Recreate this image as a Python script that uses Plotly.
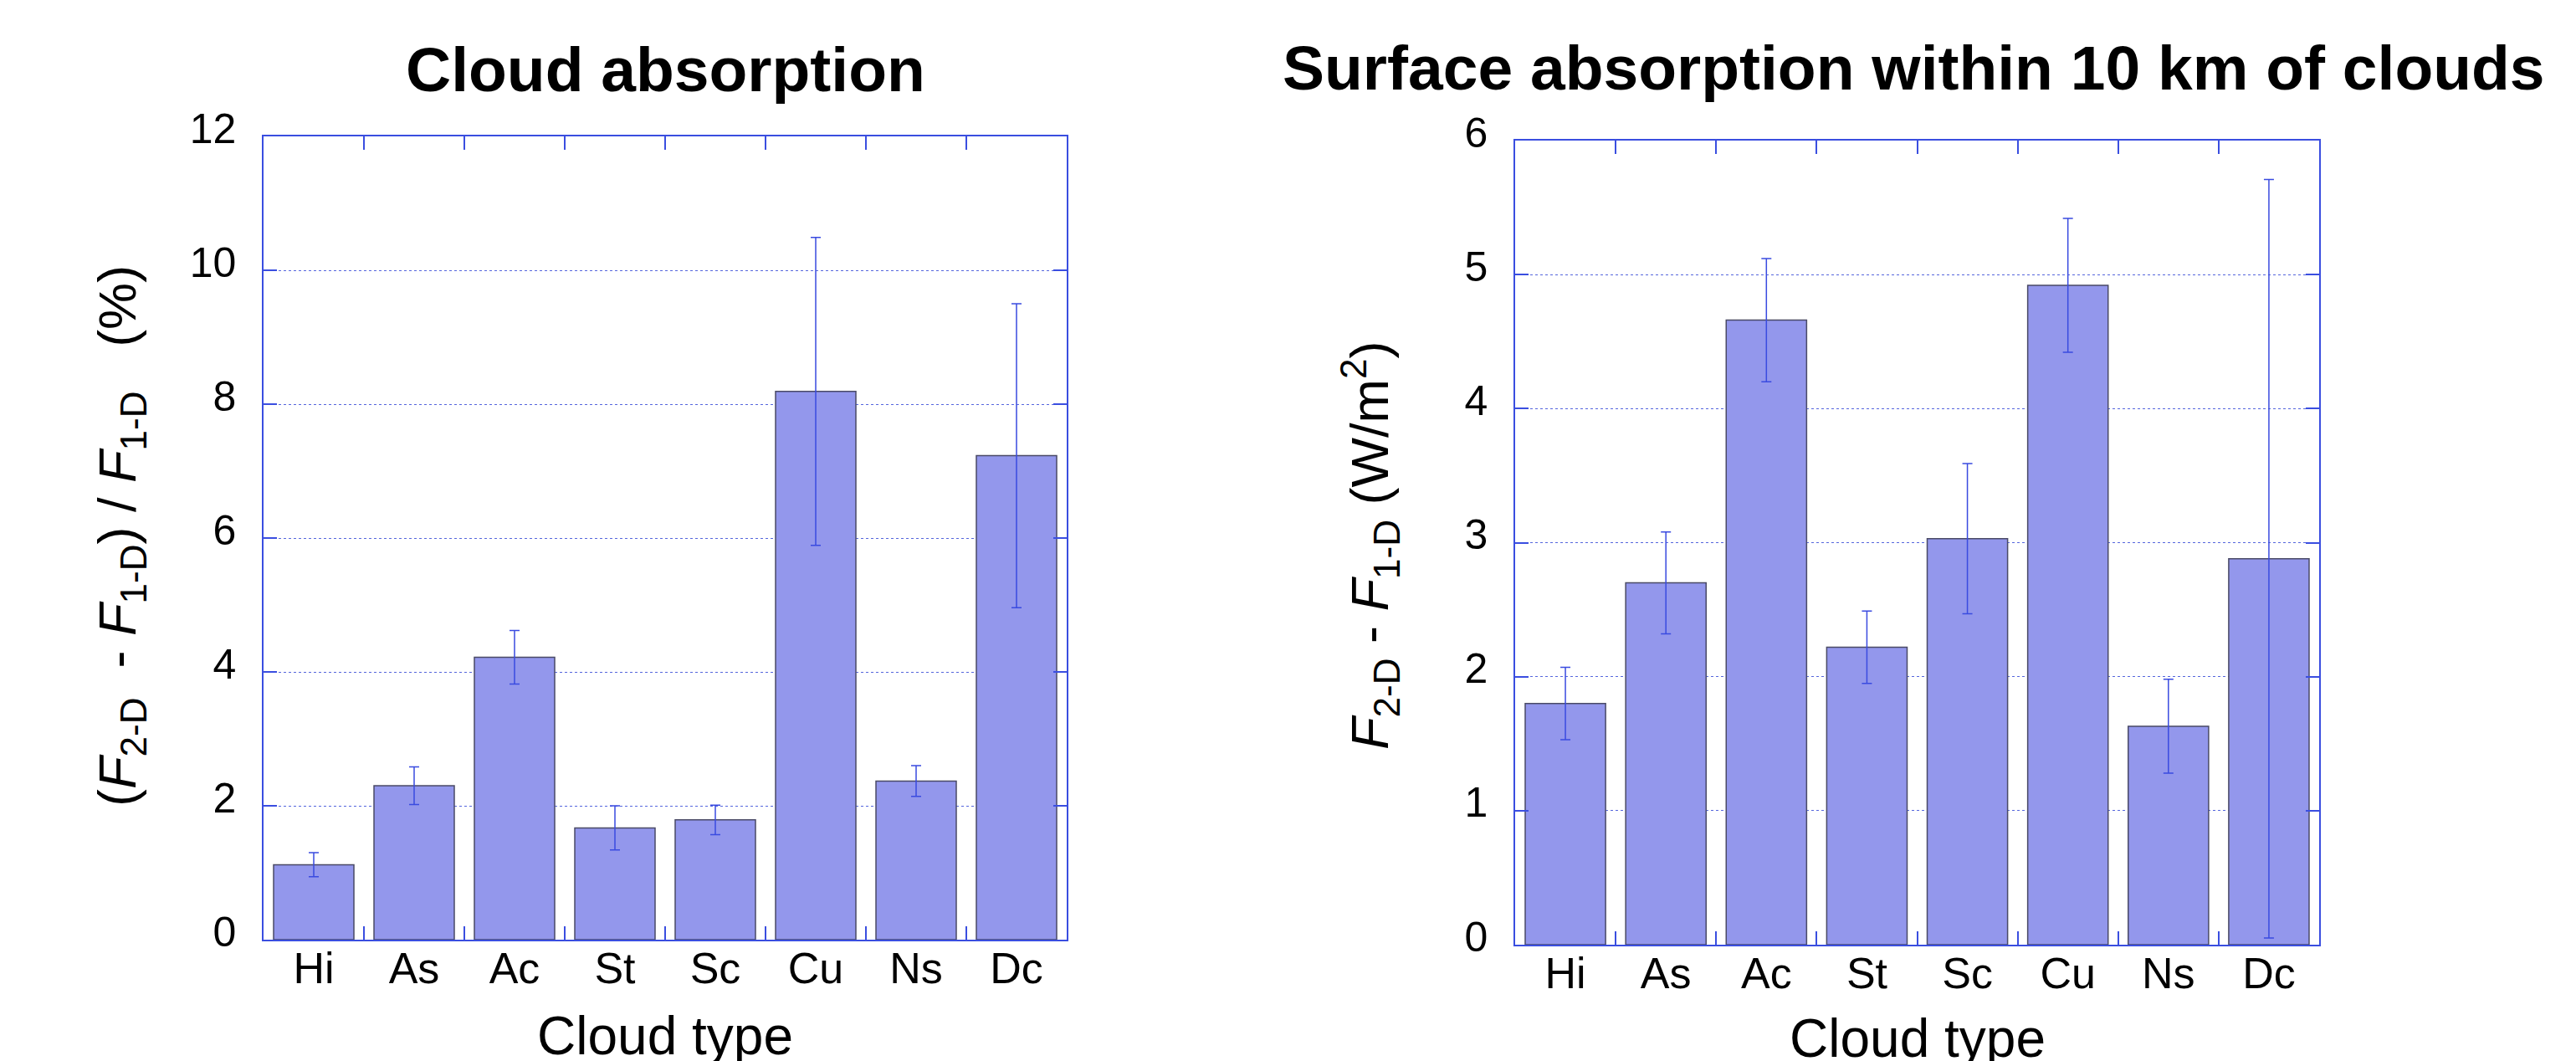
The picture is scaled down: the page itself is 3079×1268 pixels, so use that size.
import plotly.graph_objects as go

categories = ["Hi", "As", "Ac", "St", "Sc", "Cu", "Ns", "Dc"]

cloud_abs = [1.12, 2.30, 4.22, 1.67, 1.79, 8.19, 2.37, 7.23]
cloud_abs_err = [0.18, 0.28, 0.40, 0.33, 0.22, 2.30, 0.23, 2.27]

surf_abs = [1.80, 2.70, 4.66, 2.22, 3.03, 4.92, 1.63, 2.88]
surf_abs_err = [0.27, 0.38, 0.46, 0.27, 0.56, 0.50, 0.35, 2.83]

left_ticks = [0, 2, 4, 6, 8, 10, 12]
right_ticks = [0, 1, 2, 3, 4, 5, 6]

FONT = "Liberation Sans, Arial, Helvetica, sans-serif"
BAR_FILL = "#9397ec"
BAR_LINE = "#4a4a66"
ERR_COL = "#3a4be0"
AXIS_COL = "#3a4ee0"
GRID_COL = "#5566dd"

W, H = 3079, 1268

fig = go.Figure()
fig.add_trace(go.Bar(
    x=categories, y=cloud_abs, width=0.8,
    marker=dict(color=BAR_FILL, line=dict(color=BAR_LINE, width=1.5)),
    error_y=dict(type="data", array=cloud_abs_err, color=ERR_COL, thickness=1.5, width=6),
    xaxis="x", yaxis="y", showlegend=False,
))
fig.add_trace(go.Bar(
    x=categories, y=surf_abs, width=0.8,
    marker=dict(color=BAR_FILL, line=dict(color=BAR_LINE, width=1.5)),
    error_y=dict(type="data", array=surf_abs_err, color=ERR_COL, thickness=1.5, width=6),
    xaxis="x2", yaxis="y2", showlegend=False,
))

def xax(domain, anchor):
    return dict(
        domain=domain, anchor=anchor, type="category", range=[-0.5, 7.5],
        showline=True, linecolor=AXIS_COL, linewidth=1.5, mirror="ticks",
        ticks="inside", tickson="boundaries", ticklen=16, tickcolor=AXIS_COL, tickwidth=1.5,
        showgrid=False, zeroline=False, automargin=False, ticklabelstandoff=-12,
        tickfont=dict(family=FONT, size=52, color="black"),
    )

def yax(domain, anchor, rng, tickvals):
    return dict(
        domain=domain, anchor=anchor, range=rng, tickvals=tickvals,
        showline=True, linecolor=AXIS_COL, linewidth=1.5, mirror="ticks",
        ticks="inside", ticklen=16, tickcolor=AXIS_COL, tickwidth=1.5,
        showgrid=True, gridcolor=GRID_COL, gridwidth=1, griddash="3px,3px",
        zeroline=False, automargin=False, ticklabelstandoff=21, ticklabelshift=-10,
        tickfont=dict(family=FONT, size=50, color="black"),
    )

lx = [307 / W, 1267 / W]
rx = [1803 / W, 2764 / W]
ly = [(H - 1115) / H, (H - 155) / H]
ry = [(H - 1121) / H, (H - 160) / H]

fig.update_layout(
    width=W, height=H,
    margin=dict(l=0, r=0, t=0, b=0),
    paper_bgcolor="white", plot_bgcolor="white",
    font=dict(family=FONT, color="black"),
    bargap=0.2,
    xaxis=xax(lx, "y"),
    yaxis=yax(ly, "x", [0, 12], left_ticks),
    xaxis2=xax(rx, "y2"),
    yaxis2=yax(ry, "x2", [0, 6], right_ticks),
)

annotations = [
    dict(text="<b>Cloud absorption</b>", x=787 / W, y=(H - 75) / H, font=dict(size=75)),
    dict(text="<b>Surface absorption within 10 km of clouds</b>", x=2279 / W, y=(H - 73) / H, font=dict(size=75)),
    dict(text="Cloud type", x=787 / W, y=(H - 1230) / H, font=dict(size=64)),
    dict(text="Cloud type", x=2284 / W, y=(H - 1233) / H, font=dict(size=64)),
    dict(text="(<i>F</i><sub>2-D</sub>  - <i>F</i><sub>1-D</sub>) / <i>F</i><sub>1-D</sub>   (%)",
         x=136 / W, y=(H - 633) / H, textangle=-90, font=dict(size=63)),
    dict(text="<i>F</i><sub>2-D</sub> - <i>F</i><sub>1-D</sub> (W/m<sup>2</sup>)",
         x=1630 / W, y=(H - 644) / H, textangle=-90, font=dict(size=63)),
]
for a in annotations:
    a.update(xref="paper", yref="paper", xanchor="center", yanchor="middle", showarrow=False)
    a["font"].update(family=FONT, color="black")
fig.update_layout(annotations=annotations)

fig.write_html("out.html")
